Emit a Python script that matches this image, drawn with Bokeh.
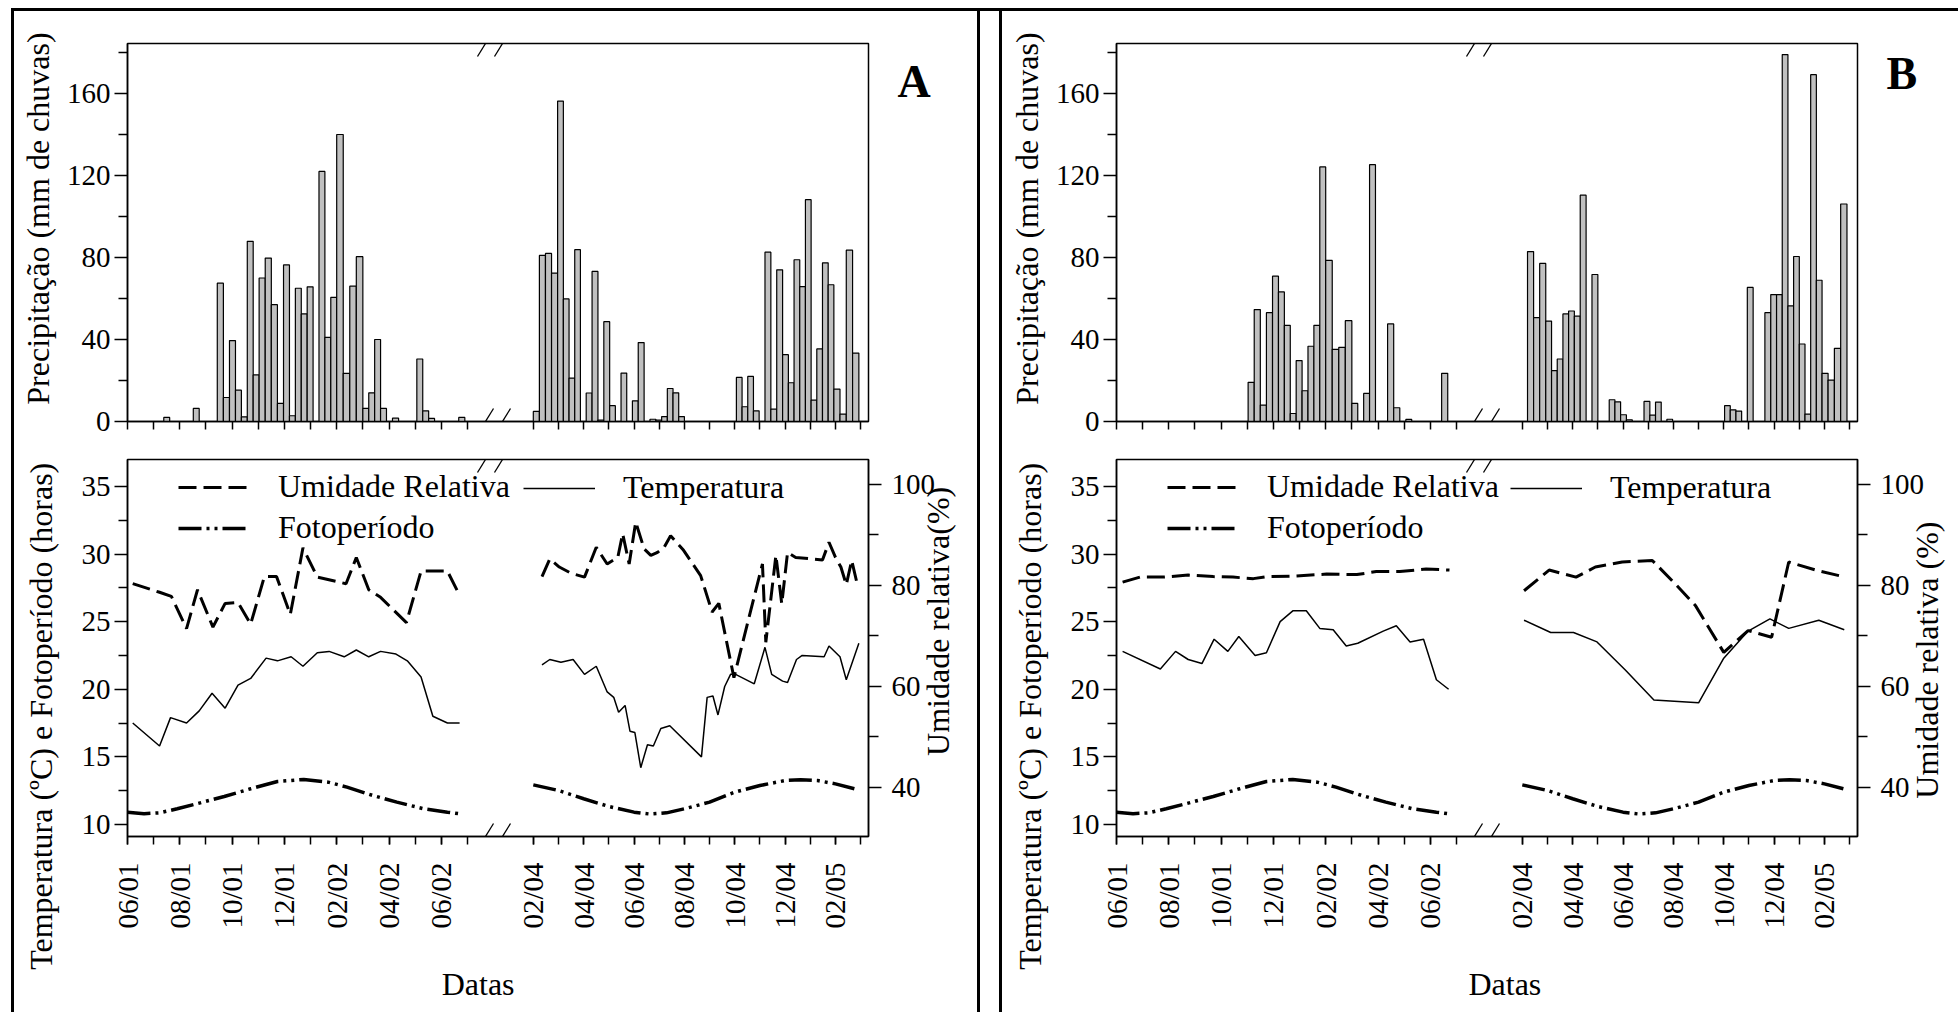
import math
import calendar
from datetime import date, timedelta
from bokeh.plotting import figure
from bokeh.models import (Range1d, LinearAxis, FixedTicker, Arrow,
                          Legend, LegendItem, Spacer)
from bokeh.layouts import row, column
from bokeh.embed import file_html
from bokeh.resources import INLINE

FONT = "Liberation Serif"

# ------------------------------------------------------------------ dados
rotulos_seg1 = ["06/01", "08/01", "10/01", "12/01", "02/02", "04/02", "06/02"]
rotulos_seg2 = ["02/04", "04/04", "06/04", "08/04", "10/04", "12/04", "02/05"]

# precipitação semanal (mm) – início da primeira semana + valores
chuva_A1_inicio = "2001-07-13"
chuva_A1 = [2, 0, 0, 0, 0, 6.4, 0, 0, 0, 67.5, 11.7, 39.5, 15.3, 2.3, 87.9, 22.7,
            70, 79.7, 57, 8.8, 76.4, 2.8, 65, 52.5, 65.7, 0, 122, 41, 60.6, 140,
            23.5, 66, 80.4, 6.4, 14, 40, 6.4, 0, 1.6, 0, 0, 0, 30.5, 5.2, 1.5,
            0, 0, 0, 0, 2]
chuva_A2_inicio = "2004-02-01"
chuva_A2 = [4.9, 81, 82, 72.4, 156.3, 59.8, 21.2, 83.8, 0, 13.9, 73.2, 0.7, 48.7,
            7.7, 0, 23.6, 0, 10.1, 38.5, 0, 1.1, 0.7, 2.4, 16.1, 14, 2.4,
            0, 0, 0, 0, 0, 0, 0, 0, 0, 21.5, 7.2, 22, 5.2, 0, 82.6, 6, 74, 32.6,
            18.9, 78.9, 65.8, 108.2, 10.4, 35.4, 77.4, 66.7, 15.8, 3.6, 83.6, 33.4]
chuva_B1_inicio = "2001-11-02"
chuva_B1 = [19.1, 54.6, 8, 53.1, 70.9, 63.2, 46.9, 3.9, 29.7, 15, 36.7, 46.9,
            124.2, 78.6, 35.2, 36.2, 49.2, 8.8, 0, 13.7, 125.3, 0, 0, 47.6, 6.7,
            0, 1, 0, 0, 0, 0, 0, 23.5]
chuva_B2_inicio = "2004-02-07"
chuva_B2 = [82.9, 50.7, 77.1, 49, 24.8, 30.5, 52.5, 53.9, 51.4, 110.4, 0, 71.7,
            0, 0, 10.6, 9.6, 3.3, 0.8, 0, 0, 9.8, 3.1, 9.5, 0, 1.1,
            0, 0, 0, 0, 0, 0, 0, 0, 0, 7.7, 5.7, 5.1, 0, 65.4, 0, 0, 53.1, 61.9,
            61.9, 179, 56.4, 80.5, 37.8, 3.6, 169.2, 68.9, 23.5, 20.2, 35.7, 106.1]

# temperatura (ºC)
temp_A1_datas = ["2001-06-07", "2001-07-08", "2001-07-21", "2001-08-09", "2001-08-24",
                 "2001-09-08", "2001-09-23", "2001-10-08", "2001-10-23", "2001-11-10",
                 "2001-11-23", "2001-12-09", "2001-12-23", "2002-01-09", "2002-01-23",
                 "2002-02-09", "2002-02-22", "2002-03-08", "2002-03-22", "2002-04-09",
                 "2002-04-22", "2002-05-08", "2002-05-22", "2002-06-08", "2002-06-22"]
temp_A1 = [17.5, 15.8, 17.9, 17.5, 18.4, 19.7, 18.6, 20.3, 20.8, 22.3, 22.1, 22.4,
           21.7, 22.7, 22.8, 22.4, 22.9, 22.4, 22.8, 22.6, 22.1, 20.9, 18.0, 17.5, 17.5]
temp_A2_datas = ["2004-02-11", "2004-02-20", "2004-03-04", "2004-03-19", "2004-04-02",
                 "2004-04-16", "2004-04-29", "2004-05-07", "2004-05-13", "2004-05-21",
                 "2004-05-27", "2004-06-02", "2004-06-09", "2004-06-17", "2004-06-24",
                 "2004-07-03", "2004-07-14", "2004-08-22", "2004-08-29", "2004-09-05",
                 "2004-09-11", "2004-09-19", "2004-09-26", "2004-10-02", "2004-10-25",
                 "2004-11-07", "2004-11-15", "2004-11-28", "2004-12-04", "2004-12-15",
                 "2004-12-22", "2005-01-18", "2005-01-24", "2005-02-06", "2005-02-13",
                 "2005-02-27"]
temp_A2 = [21.8, 22.2, 22.0, 22.2, 21.1, 21.7, 19.8, 19.4, 18.3, 18.8, 16.9, 16.8,
           14.2, 15.9, 15.8, 17.1, 17.3, 15.0, 19.4, 19.5, 18.1, 20.2, 21.1, 21.1,
           20.4, 23.1, 21.1, 20.6, 20.5, 22.2, 22.5, 22.4, 23.2, 22.4, 20.7, 23.4]
temp_B1_datas = ["2001-06-08", "2001-07-22", "2001-08-09", "2001-08-24", "2001-09-09",
                 "2001-09-23", "2001-10-09", "2001-10-22", "2001-11-10", "2001-11-23",
                 "2001-12-09", "2001-12-24", "2002-01-09", "2002-01-25", "2002-02-09",
                 "2002-02-23", "2002-03-08", "2002-04-07", "2002-04-22", "2002-05-08",
                 "2002-05-24", "2002-06-08", "2002-06-22"]
temp_B1 = [22.8, 21.5, 22.8, 22.2, 21.9, 23.7, 22.8, 23.9, 22.5, 22.7, 25.0, 25.8,
           25.8, 24.5, 24.4, 23.2, 23.4, 24.3, 24.7, 23.5, 23.7, 20.7, 20.0]
temp_B2_datas = ["2004-02-03", "2004-03-05", "2004-04-02", "2004-04-30", "2004-06-04",
                 "2004-07-08", "2004-09-01", "2004-10-01", "2004-10-31", "2004-11-26",
                 "2004-12-19", "2005-01-25", "2005-02-23"]
temp_B2 = [25.1, 24.2, 24.2, 23.5, 21.4, 19.2, 19.0, 22.3, 24.3, 25.2, 24.5, 25.1, 24.4]

# umidade relativa (%)
ur_A1_datas = ["2001-06-07", "2001-07-08", "2001-07-22", "2001-08-09", "2001-08-22",
               "2001-09-09", "2001-09-23", "2001-10-08", "2001-10-23", "2001-11-08",
               "2001-11-22", "2001-12-08", "2001-12-23", "2002-01-09", "2002-02-11",
               "2002-02-22", "2002-03-08", "2002-03-22", "2002-04-21", "2002-05-08",
               "2002-06-08", "2002-06-22"]
ur_A1 = [80.3, 78.6, 77.8, 71.4, 79.1, 71.7, 76.4, 76.6, 72.3, 81.7, 81.7, 74.2,
         87.4, 81.6, 80.3, 85.5, 79.1, 77.6, 72.6, 82.8, 82.8, 78.0]
ur_A2_datas = ["2004-02-11", "2004-02-20", "2004-03-02", "2004-03-16", "2004-04-02",
               "2004-04-16", "2004-04-29", "2004-05-12", "2004-05-18", "2004-05-26",
               "2004-06-03", "2004-06-13", "2004-06-21", "2004-06-29", "2004-07-07",
               "2004-07-15", "2004-07-31", "2004-08-21", "2004-09-04", "2004-09-12",
               "2004-09-30", "2004-10-16", "2004-11-04", "2004-11-08", "2004-11-20",
               "2004-11-27", "2004-12-04", "2004-12-14", "2005-01-16", "2005-01-24",
               "2005-02-01", "2005-02-07", "2005-02-13", "2005-02-19", "2005-02-26"]
ur_A2 = [81.7, 85.2, 83.6, 82.4, 81.6, 87.5, 84.2, 85.5, 90.2, 84.2, 92.5, 87.2,
         85.9, 86.5, 87.5, 89.8, 86.9, 81.9, 74.7, 76.4, 61.7, 72.0, 84.2, 68.7,
         85.9, 76.3, 86.5, 85.5, 85.0, 88.5, 85.5, 83.6, 80.1, 84.9, 79.6]
ur_B1_datas = ["2001-06-08", "2001-06-28", "2001-07-25", "2001-08-24", "2001-09-22",
               "2001-10-15", "2001-11-08", "2001-11-23", "2001-12-24", "2002-02-02",
               "2002-03-07", "2002-03-30", "2002-04-26", "2002-05-27", "2002-06-23"]
ur_B1 = [80.6, 81.6, 81.6, 82.0, 81.7, 81.6, 81.3, 81.7, 81.8, 82.2, 82.1, 82.7,
         82.7, 83.2, 83.0]
ur_B2_datas = ["2004-02-03", "2004-03-03", "2004-04-05", "2004-04-28", "2004-05-31",
               "2004-07-06", "2004-08-03", "2004-08-28", "2004-10-01", "2004-10-31",
               "2004-11-28", "2004-12-19", "2005-01-21", "2005-02-24"]
ur_B2 = [78.9, 83.0, 81.6, 83.6, 84.6, 84.9, 80.3, 76.0, 66.7, 71.0, 69.7, 84.6,
         83.0, 81.6]

# fotoperíodo (horas)
foto_1_datas = ["2001-06-01", "2001-06-20", "2001-07-08", "2001-07-29", "2001-08-21",
                "2001-09-22", "2001-10-23", "2001-11-23", "2001-12-24", "2002-01-22",
                "2002-02-12", "2002-03-13", "2002-04-10", "2002-05-11", "2002-06-08",
                "2002-06-22"]
foto_1 = [10.9, 10.8, 10.86, 11.16, 11.53, 12.07, 12.64, 13.18, 13.33, 13.13,
          12.76, 12.14, 11.65, 11.16, 10.91, 10.79]
foto_2_datas = ["2004-02-01", "2004-03-01", "2004-04-01", "2004-05-01", "2004-06-01",
                "2004-06-20", "2004-07-10", "2004-08-01", "2004-09-01", "2004-10-01",
                "2004-11-01", "2004-12-01", "2004-12-20", "2005-01-10", "2005-02-01",
                "2005-02-22"]
foto_2 = [12.93, 12.51, 11.9, 11.33, 10.91, 10.77, 10.86, 11.16, 11.65, 12.39,
          12.88, 13.25, 13.3, 13.25, 13.0, 12.64]

# ------------------------------------------------------------------ escala x com quebra
ORIG1, ORIG2 = date(2001, 6, 1), date(2004, 2, 1)
U1, U2, OFF2 = 27, 26, 419          # unidades por mês em cada segmento
PXU = 26.15 / 27                    # pixels por unidade
FW, FH_TOP, FH_BOT = 741, 378, 377
XMAX = FW / PXU
Y_TOP = (0, 184.4)
Y_T = (9.11, 36.99)
Y_UR = (30.24, 104.89)


def meses(dt, orig):
    return ((dt.year - orig.year) * 12 + (dt.month - orig.month)
            + (dt.day - 1) / calendar.monthrange(dt.year, dt.month)[1])


def xpos(dt):
    if isinstance(dt, str):
        dt = date.fromisoformat(dt)
    if dt < date(2003, 1, 1):
        return U1 * meses(dt, ORIG1)
    return OFF2 + U2 * meses(dt, ORIG2)


TICKS = [U1 * i for i in range(14)] + [OFF2 + U2 * i for i in range(14)]
LAB_TICKS = [U1 * 2 * i for i in range(7)] + [OFF2 + U2 * 2 * i for i in range(7)]
OVR = dict(zip(LAB_TICKS, rotulos_seg1 + rotulos_seg2))

BRK = (358 / PXU, 375 / PXU)        # centros das marcas de quebra
BDX = 8 / PXU


def estilo(p):
    p.xgrid.visible = False
    p.ygrid.visible = False
    p.outline_line_color = "black"
    p.outline_line_width = 1.5
    p.background_fill_color = "white"
    p.border_fill_color = "white"


def eixo(ax, tick_out, minor_out, standoff, size="29px"):
    ax.axis_line_color = "black"
    ax.axis_line_width = 1.5
    ax.major_tick_line_color = "black"
    ax.minor_tick_line_color = "black"
    ax.major_tick_line_width = 1.5
    ax.minor_tick_line_width = 1.5
    ax.major_tick_in = 0
    ax.minor_tick_in = 0
    ax.major_tick_out = tick_out
    ax.minor_tick_out = minor_out
    ax.major_label_text_font = FONT
    ax.major_label_text_font_size = size
    ax.major_label_text_color = "black"
    ax.major_label_standoff = standoff


def rotulo(p, side, pos, text, standoff, orient, size="32px", bold=False,
           y_range_name="default"):
    """Texto de eixo posicionado num ponto escolhido ao longo do eixo."""
    kw = dict(y_range_name=y_range_name) if side in ("left", "right") else {}
    ax = LinearAxis(ticker=FixedTicker(ticks=[pos]), major_label_overrides={pos: text}, **kw)
    ax.axis_line_color = None
    ax.major_tick_line_color = None
    ax.minor_tick_line_color = None
    ax.major_tick_out = 0
    ax.major_tick_in = 0
    ax.major_label_standoff = standoff
    ax.major_label_text_font = FONT
    ax.major_label_text_font_size = size
    ax.major_label_text_color = "black"
    if bold:
        ax.major_label_text_font_style = "bold"
    ax.major_label_orientation = orient
    p.add_layout(ax, side)


def quebra(p, ylo, yhi, dy):
    for yy in (ylo, yhi):
        for c in BRK:
            p.add_layout(Arrow(end=None, x_start=c - BDX, y_start=yy - dy,
                               x_end=c + BDX, y_end=yy + dy, level="overlay",
                               line_color="black", line_width=1.3))


def painel(cfg):
    ml, mr = cfg["ml"], cfg["mr"]
    # ---------------- precipitação
    top = figure(frame_width=FW, frame_height=FH_TOP,
                 x_range=Range1d(0, XMAX), y_range=Range1d(*Y_TOP),
                 min_border_left=ml, min_border_right=mr,
                 min_border_top=32, min_border_bottom=19,
                 output_backend="svg", toolbar_location=None, title=None)
    estilo(top)
    for inicio, vals in cfg["chuva"]:
        d0 = date.fromisoformat(inicio)
        L, R, T = [], [], []
        for i, v in enumerate(vals):
            if v <= 0:
                continue
            L.append(xpos(d0 + timedelta(days=7 * i)))
            R.append(xpos(d0 + timedelta(days=7 * (i + 1))))
            T.append(v)
        top.quad(left=L, right=R, top=T, bottom=0, fill_color="#c0c0c0",
                 line_color="black", line_width=1.2)
    top.xaxis.ticker = FixedTicker(ticks=[], minor_ticks=TICKS)
    eixo(top.xaxis[0], 8, 8, 0)
    top.yaxis.ticker = FixedTicker(ticks=[0, 40, 80, 120, 160],
                                   minor_ticks=[20, 60, 100, 140, 180])
    eixo(top.yaxis[0], 13, 9, 4)
    rotulo(top, "left", 99, "Precipitação (mm de chuvas)", 7, "parallel")
    rotulo(top, "right", cfg["letra_y"], cfg["letra"], 29, "horizontal",
           size="46px", bold=True)
    quebra(top, Y_TOP[0], Y_TOP[1], 13 / (FH_TOP / (Y_TOP[1] - Y_TOP[0])))

    # ---------------- temperatura / UR / fotoperíodo
    bot = figure(frame_width=FW, frame_height=FH_BOT,
                 x_range=Range1d(0, XMAX), y_range=Range1d(*Y_T),
                 min_border_left=ml, min_border_right=mr,
                 min_border_top=19, min_border_bottom=176,
                 output_backend="svg", toolbar_location=None, title=None)
    estilo(bot)
    bot.extra_y_ranges = {"ur": Range1d(*Y_UR)}
    rax = LinearAxis(y_range_name="ur",
                     ticker=FixedTicker(ticks=[40, 60, 80, 100], minor_ticks=[50, 70, 90]))
    eixo(rax, 13, 10, 10)
    bot.add_layout(rax, "right")
    bot.xaxis.ticker = FixedTicker(ticks=LAB_TICKS, minor_ticks=TICKS)
    bot.xaxis.major_label_overrides = OVR
    eixo(bot.xaxis[0], 8, 8, 18, size="29px")
    bot.xaxis.major_label_orientation = math.pi / 2
    bot.yaxis[0].ticker = FixedTicker(ticks=[10, 15, 20, 25, 30, 35],
                                      minor_ticks=[12.5, 17.5, 22.5, 27.5, 32.5])
    eixo(bot.yaxis[0], 13, 9, 4)

    r_ur = [bot.line([xpos(d) for d in ds], vs, y_range_name="ur", line_color="black",
                     line_width=3, line_dash="18 7") for ds, vs in cfg["ur"]]
    r_t = [bot.line([xpos(d) for d in ds], vs, line_color="black", line_width=1.5)
           for ds, vs in cfg["temp"]]
    r_f = [bot.line([xpos(d) for d in ds], vs, line_color="black", line_width=3.5,
                    line_dash="23 5 3 5 3 5") for ds, vs in cfg["foto"]]

    def leg(items, loc):
        lg = Legend(items=items, location=loc, orientation="vertical",
                    label_text_font=FONT, label_text_font_size="32px",
                    label_text_color="black", glyph_width=72, glyph_height=36,
                    label_height=36, label_standoff=28, spacing=4, padding=0,
                    margin=0, border_line_alpha=0, background_fill_alpha=0)
        bot.add_layout(lg)

    leg([LegendItem(label="Umidade Relativa", renderers=[r_ur[0]]),
         LegendItem(label="Fotoperíodo", renderers=[r_f[0]])], (51, 290))
    leg([LegendItem(label="Temperatura", renderers=[r_t[0]])], (cfg["leg2x"], 330))

    rotulo(bot, "left", 18, "Temperatura (ºC) e Fotoperíodo (horas)", 19, "parallel")
    rotulo(bot, "right", cfg["ur_lab_y"], cfg["ur_lab"], 0, math.pi / 2,
           y_range_name="ur")
    rotulo(bot, "below", cfg["datas_x"], "Datas", 34, "horizontal")
    quebra(bot, Y_T[0], Y_T[1], 13 / (FH_BOT / (Y_T[1] - Y_T[0])))
    return column(top, bot, spacing=0)


cfgA = dict(ml=113, mr=106, letra="A", letra_y=166,
            chuva=[(chuva_A1_inicio, chuva_A1), (chuva_A2_inicio, chuva_A2)],
            temp=[(temp_A1_datas, temp_A1), (temp_A2_datas, temp_A2)],
            ur=[(ur_A1_datas, ur_A1), (ur_A2_datas, ur_A2)],
            foto=[(foto_1_datas, foto_1), (foto_2_datas, foto_2)],
            leg2x=396, ur_lab="Umidade relativa(%)", ur_lab_y=64.5, datas_x=362)
cfgB = dict(ml=114, mr=101, letra="B", letra_y=170,
            chuva=[(chuva_B1_inicio, chuva_B1), (chuva_B2_inicio, chuva_B2)],
            temp=[(temp_B1_datas, temp_B1), (temp_B2_datas, temp_B2)],
            ur=[(ur_B1_datas, ur_B1), (ur_B2_datas, ur_B2)],
            foto=[(foto_1_datas, foto_1), (foto_2_datas, foto_2)],
            leg2x=394, ur_lab="Umidade relativa (%)", ur_lab_y=69.8, datas_x=401)

H = 1001


def barra(w, h):
    return Spacer(width=w, height=h, styles={"background-color": "black"})


corpo = row(Spacer(width=11, height=H), barra(3, H), painel(cfgA), barra(3, H),
            Spacer(width=19, height=H), barra(3, H), painel(cfgB), barra(3, H),
            spacing=0)
topo = row(Spacer(width=11, height=3), barra(1947, 3), spacing=0)
layout = column(Spacer(width=10, height=8), topo, corpo, spacing=0)

with open("out.html", "w", encoding="utf-8") as f:
    f.write(file_html(layout, INLINE))
